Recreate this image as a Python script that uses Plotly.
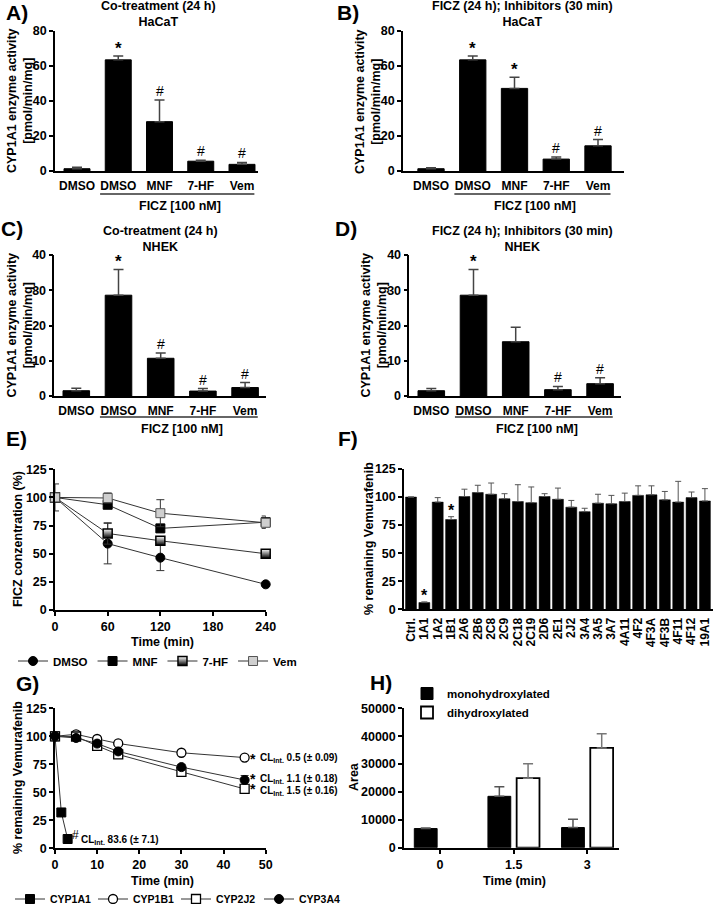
import plotly.graph_objects as go

W, H = 715, 904
FONT = "Liberation Sans"


def fx(p):
    return p / W


def fy(p):
    return 1 - p / H


# ---------------- data ----------------
bar_labels = ["DMSO", "DMSO", "MNF", "7-HF", "Vem"]
ficz_label = "FICZ [100 nM]"

a_vals = [1.3, 63.5, 28.2, 5.6, 3.8]
a_errs = [0.8, 2.2, 12.4, 0.6, 1.1]
a_sig = ["", "*", "#", "#", "#"]

b_vals = [1.3, 63.5, 47.2, 6.8, 14.4]
b_errs = [0.5, 2.2, 6.4, 1.2, 3.6]
b_sig = ["", "*", "*", "#", "#"]

c_vals = [1.5, 28.6, 10.7, 1.4, 2.4]
c_errs = [0.7, 7.3, 1.5, 0.7, 1.4]
c_sig = ["", "*", "#", "#", "#"]

d_vals = [1.5, 28.6, 15.4, 1.8, 3.5]
d_errs = [0.6, 7.3, 4.1, 0.9, 1.7]
d_sig = ["", "*", "", "#", "#"]

e_time = [0, 60, 120, 240]
e_dmso = [100, 59, 46.5, 22.8]
e_dmso_err = [12, 18, 11.5, 1]
e_mnf = [100, 93.5, 72.5, 78]
e_mnf_err = [1.5, 1.5, 3, 5.5]
e_7hf = [100, 68, 61.5, 50]
e_7hf_err = [2, 9.5, 2.5, 1]
e_vem = [100, 99.5, 86, 77.5]
e_vem_err = [2, 4.5, 12, 2]

f_cyps = ["Ctrl.", "1A1", "1A2", "1B1", "2A6", "2B6", "2C8", "2C9", "2C18", "2C19",
          "2D6", "2E1", "2J2", "3A4", "3A5", "3A7", "4A11", "4F2", "4F3A", "4F3B",
          "4F11", "4F12", "19A1"]
f_vals = [100, 6, 95.5, 80, 100.5, 104, 102.5, 98.5, 96, 95, 100.5, 98, 91, 87,
          94.5, 94, 96, 101.5, 102, 97.5, 95.5, 99.5, 96.5]
f_errs = [0, 0.6, 4, 2.5, 6.5, 6.5, 10, 4.5, 15, 14, 2.5, 10, 6, 3,
          8, 7.5, 7.5, 8.5, 8, 7.5, 18.5, 5, 11]
f_sig = ["", "*", "", "*"] + [""] * 19

g_1a1_time = [0, 1.5, 3]
g_1a1 = [100, 32, 8.3]
g_time = [0, 5, 10, 15, 30, 45]
g_1b1 = [100, 101.8, 97.6, 93.6, 85.3, 81]
g_1b1_err = [0.5, 1, 1, 1, 1, 1.5]
g_2j2 = [100, 99.8, 91.5, 83.8, 68.3, 53]
g_2j2_err = [0.5, 1, 1.5, 1.5, 1.5, 1.5]
g_3a4 = [100, 98.5, 93.5, 86.5, 72.5, 61]
g_3a4_err = [0.5, 1, 1, 2, 2.5, 4]
g_cl_1a1 = "CL<sub>Int.</sub> 83.6 (± 7.1)"
g_cl_1b1 = "CL<sub>Int.</sub> 0.5 (± 0.09)"
g_cl_3a4 = "CL<sub>Int.</sub> 1.1 (± 0.18)"
g_cl_2j2 = "CL<sub>Int.</sub> 1.5 (± 0.16)"

h_times = ["0", "1.5", "3"]
h_mono = [6870, 18430, 7230]
h_mono_err = [230, 3400, 3000]
h_di = [None, 24940, 35780]
h_di_err = [0, 5150, 5060]

# ---------------- styling helpers ----------------
num_font = dict(family=FONT, size=12.5, color="black", weight="bold")
cat_font = dict(family=FONT, size=12, color="black", weight="bold")
lab_font = dict(family=FONT, size=12.5, color="black", weight="bold")

base_axis = dict(showline=True, linecolor="black", linewidth=1.5, showgrid=False,
                 zeroline=False, ticks="outside", ticklen=4, tickwidth=1.5,
                 tickcolor="black", tickfont=num_font, fixedrange=True,
                 automargin=False)

fig = go.Figure()
layout_axes = {}
annotations = []
shapes = []


def names(i):
    return ("x" if i == 1 else f"x{i}", "y" if i == 1 else f"y{i}",
            "xaxis" if i == 1 else f"xaxis{i}", "yaxis" if i == 1 else f"yaxis{i}")


def set_axes(i, xdom, ydom, xrange_, yrange_, xopts, yopts):
    xa, ya, xn, yn = names(i)
    xd = dict(base_axis)
    xd.update(domain=[fx(xdom[0]), fx(xdom[1])], range=xrange_, anchor=ya)
    xd.update(xopts)
    yd = dict(base_axis)
    yd.update(domain=[fy(ydom[1]), fy(ydom[0])], range=yrange_, anchor=xa)
    yd.update(yopts)
    layout_axes[xn] = xd
    layout_axes[yn] = yd


def text_ann(x, y, text, font, **kw):
    d = dict(x=x, y=y, xref="paper", yref="paper", text=text, showarrow=False,
             font=font)
    d.update(kw)
    annotations.append(d)


def letter(xc, yc, t):
    text_ann(fx(xc), fy(yc), t, dict(family=FONT, size=21, color="black", weight="bold"),
             xanchor="center", yanchor="middle")


# ---------------- panels A-D ----------------
bar_panels = [
    dict(i=1, vals=a_vals, errs=a_errs, sig=a_sig, xdom=(55, 258), ydom=(31, 171),
         first=77, step=41.25, ymax=80, dtick=20,
         title="Co-treatment (24 h)<br>HaCaT", tx=158, ty=14,
         letter=("A)", 17, 12), yt_x=20, br_y=194, fl_y=206),
    dict(i=2, vals=b_vals, errs=b_errs, sig=b_sig, xdom=(403, 624), ydom=(31, 171),
         first=431, step=41.75, ymax=80, dtick=20,
         title="FICZ (24 h); Inhibitors (30 min)<br>HaCaT", tx=522, ty=14,
         letter=("B)", 348, 12), yt_x=368, br_y=194, fl_y=206),
    dict(i=3, vals=c_vals, errs=c_errs, sig=c_sig, xdom=(54.3, 265.7), ydom=(255, 396),
         first=76.3, step=42.2, ymax=40, dtick=10,
         title="Co-treatment (24 h)<br>NHEK", tx=160, ty=239,
         letter=("C)", 12, 229), yt_x=20, br_y=417, fl_y=429),
    dict(i=4, vals=d_vals, errs=d_errs, sig=d_sig, xdom=(409.3, 620.7), ydom=(255, 396),
         first=431.3, step=42.2, ymax=40, dtick=10,
         title="FICZ (24 h); Inhibitors (30 min)<br>NHEK", tx=522, ty=239,
         letter=("D)", 346, 229), yt_x=374, br_y=417, fl_y=429),
]

for p in bar_panels:
    i = p["i"]
    xa, ya, _, _ = names(i)
    n = len(p["vals"])
    idx = list(range(n))
    fig.add_trace(go.Bar(
        x=idx, y=p["vals"], xaxis=xa, yaxis=ya, width=0.63,
        marker=dict(color="black", line=dict(color="black", width=1)),
        error_y=dict(type="data", array=p["errs"], arrayminus=[0] * n, symmetric=False,
                     color="#444", thickness=1.5, width=5),
        showlegend=False))
    xr = [(p["xdom"][0] - p["first"]) / p["step"], (p["xdom"][1] - p["first"]) / p["step"]]
    set_axes(i, p["xdom"], p["ydom"], xr, [0, p["ymax"]],
             dict(tickvals=idx, ticktext=bar_labels, ticks="", tickfont=cat_font,
                  ticklabelstandoff=3),
             dict(tick0=0, dtick=p["dtick"]))
    for k, s in enumerate(p["sig"]):
        if not s:
            continue
        if s == "*":
            f = dict(family=FONT, size=17, color="black", weight="bold")
            ys = -4
        else:
            f = dict(family=FONT, size=14, color="black")
            ys = -1
        annotations.append(dict(x=idx[k], y=p["vals"][k] + p["errs"][k], xref=xa, yref=ya,
                                text=s, showarrow=False, font=f, yanchor="bottom",
                                yshift=ys))
    # bracket line under FICZ-treated groups
    shapes.append(dict(type="line", xref=xa, yref="paper", x0=idx[1] - 0.44,
                       x1=idx[-1] + 0.3, y0=fy(p["br_y"]), y1=fy(p["br_y"]),
                       line=dict(color="#333", width=1.5)))
    annotations.append(dict(x=(idx[1] + idx[-1]) / 2, y=fy(p["fl_y"]), xref=xa, yref="paper",
                            text=ficz_label, showarrow=False, font=lab_font,
                            yanchor="middle"))
    text_ann(fx(p["tx"]), fy(p["ty"]), p["title"], lab_font, xanchor="center",
             yanchor="middle")
    text_ann(fx(p["yt_x"]), fy((p["ydom"][0] + p["ydom"][1]) / 2),
             "CYP1A1 enzyme activity<br>[pmol/min/mg]", lab_font, textangle=-90,
             xanchor="center", yanchor="middle")
    letter(p["letter"][1], p["letter"][2], p["letter"][0])

# ---------------- panel E ----------------
e_series = [
    ("DMSO", e_dmso, e_dmso_err, dict(symbol="circle", size=9, color="black",
                                      line=dict(color="black", width=1))),
    ("MNF", e_mnf, e_mnf_err, dict(symbol="square", size=9, color="black",
                                   line=dict(color="black", width=1))),
    ("7-HF", e_7hf, e_7hf_err, dict(symbol="square", size=9, color="white",
                                    gradient=dict(type="vertical", color="black"),
                                    line=dict(color="black", width=1.5))),
    ("Vem", e_vem, e_vem_err, dict(symbol="square", size=9, color="#cfcfcf",
                                   line=dict(color="#555", width=1))),
]
for name, ys, es, mk in e_series:
    fig.add_trace(go.Scatter(
        x=e_time, y=ys, xaxis="x5", yaxis="y5", name=name, mode="lines+markers",
        line=dict(color="#333", width=1), marker=mk, cliponaxis=False,
        error_y=dict(type="data", array=es, color="#333", thickness=1, width=4),
        legend="legend"))
set_axes(5, (55, 265.7), (469.3, 610), [0, 240], [0, 125],
         dict(tickvals=e_time + [180]), dict(tick0=0, dtick=25))
text_ann(fx(17.5), fy(539.6), "FICZ conzentration (%)", lab_font, textangle=-90,
         xanchor="center", yanchor="middle")
text_ann(fx(162), fy(642), "Time (min)", lab_font, xanchor="center", yanchor="middle")
letter(16, 438, "E)")

# ---------------- panel F ----------------
f_idx = list(range(len(f_cyps)))
fig.add_trace(go.Bar(
    x=f_idx, y=f_vals, xaxis="x6", yaxis="y6", width=0.82,
    marker=dict(color="black", line=dict(color="black", width=0.5)),
    error_y=dict(type="data", array=f_errs, arrayminus=[0] * len(f_vals), symmetric=False,
                 color="#555", thickness=1, width=3),
    showlegend=False))
set_axes(6, (404, 713), (469, 609.3), [(404 - 411) / 13.36, (713 - 411) / 13.36], [0, 125],
         dict(tickvals=f_idx, ticktext=f_cyps, ticks="", tickangle=-90,
              tickfont=dict(family=FONT, size=12, color="black", weight="bold"),
              ticklabelstandoff=2),
         dict(tick0=0, dtick=25))
for k, s in enumerate(f_sig):
    if s:
        annotations.append(dict(x=f_idx[k], y=f_vals[k] + f_errs[k], xref="x6", yref="y6",
                                text=s, showarrow=False, yanchor="bottom", yshift=-4,
                                font=dict(family=FONT, size=16, color="black",
                                          weight="bold")))
text_ann(fx(369), fy(539), "% remaining Vemurafenib", lab_font, textangle=-90,
         xanchor="center", yanchor="middle")
letter(348, 438, "F)")

# ---------------- panel G ----------------
g_series = [
    ("CYP1A1", g_1a1_time, g_1a1, None, dict(symbol="square", size=9, color="black",
                                              line=dict(color="black", width=1))),
    ("CYP1B1", g_time, g_1b1, g_1b1_err, dict(symbol="circle", size=9, color="white",
                                               line=dict(color="black", width=1.3))),
    ("CYP2J2", g_time, g_2j2, g_2j2_err, dict(symbol="square", size=9, color="white",
                                               line=dict(color="black", width=1.3))),
    ("CYP3A4", g_time, g_3a4, g_3a4_err, dict(symbol="circle", size=9, color="black",
                                               line=dict(color="black", width=1))),
]
for name, xs, ys, es, mk in g_series:
    tr = dict(x=xs, y=ys, xaxis="x7", yaxis="y7", name=name, mode="lines+markers",
              line=dict(color="#333", width=1), marker=mk, cliponaxis=False,
              legend="legend2")
    if es:
        tr["error_y"] = dict(type="data", array=es, color="#333", thickness=1, width=4)
    fig.add_trace(go.Scatter(**tr))
set_axes(7, (55, 265.7), (708.3, 848.3), [0, 50], [0, 125],
         dict(tick0=0, dtick=10), dict(tick0=0, dtick=25))

star_font = dict(family=FONT, size=14, color="black", weight="bold")
cl_font = dict(family=FONT, size=10, color="black", weight="bold")
g_last = [(g_1b1, g_cl_1b1, 0, 0), (g_3a4, g_cl_3a4, 2, 1), (g_2j2, g_cl_2j2, 1, -2)]
for ys, txt, star_dy, cl_dy in g_last:
    annotations.append(dict(x=g_time[-1], y=ys[-1], xref="x7", yref="y7", text="*",
                            showarrow=False, xanchor="center", yanchor="middle",
                            xshift=8, yshift=star_dy - 1, font=star_font))
    annotations.append(dict(x=g_time[-1], y=ys[-1], xref="x7", yref="y7", text=txt,
                            showarrow=False, xanchor="left", yanchor="middle",
                            xshift=13, yshift=cl_dy, font=cl_font))
annotations.append(dict(x=g_1a1_time[-1], y=g_1a1[-1], xref="x7", yref="y7", text="#",
                        showarrow=False, xanchor="center", yanchor="middle", xshift=8,
                        yshift=4, font=dict(family=FONT, size=12, color="black")))
annotations.append(dict(x=g_1a1_time[-1], y=g_1a1[-1], xref="x7", yref="y7", text=g_cl_1a1,
                        showarrow=False, xanchor="left", yanchor="middle", xshift=11,
                        yshift=-1, font=cl_font))
text_ann(fx(18), fy(778), "% remaining Vemurafenib", lab_font, textangle=-90,
         xanchor="center", yanchor="middle")
text_ann(fx(162), fy(881), "Time (min)", lab_font, xanchor="center", yanchor="middle")
letter(27, 683, "G)")

# ---------------- panel H ----------------
h_idx = list(range(len(h_times)))
fig.add_trace(go.Bar(
    x=h_idx, y=h_mono, xaxis="x8", yaxis="y8", name="monohydroxylated",
    width=0.31, offset=-0.35,
    marker=dict(color="black", line=dict(color="black", width=1)),
    error_y=dict(type="data", array=h_mono_err, arrayminus=[0] * 3, symmetric=False,
                 color="#555", thickness=1.5, width=5),
    legend="legend3"))
fig.add_trace(go.Bar(
    x=h_idx, y=h_di, xaxis="x8", yaxis="y8", name="dihydroxylated",
    width=0.31, offset=0.04,
    marker=dict(color="white", line=dict(color="black", width=1.8)),
    error_y=dict(type="data", array=h_di_err, arrayminus=[0] * 3, symmetric=False,
                 color="#777", thickness=1.5, width=5),
    legend="legend3"))
set_axes(8, (404, 619), (708.3, 847.7), [-0.49, 2.43], [0, 50000],
         dict(tickvals=h_idx, ticktext=h_times, ticklen=5),
         dict(tick0=0, dtick=10000, tickformat="d"))
text_ann(fx(354), fy(777), "Area", lab_font, textangle=-90, xanchor="center",
         yanchor="middle")
text_ann(fx(514), fy(881), "Time (min)", lab_font, xanchor="center", yanchor="middle")
letter(381, 682, "H)")

leg_font = dict(family=FONT, size=11.5, color="black", weight="bold")
fig.update_layout(
    width=W, height=H,
    margin=dict(l=0, r=0, t=0, b=0, autoexpand=False),
    paper_bgcolor="white", plot_bgcolor="white",
    barmode="overlay",
    showlegend=True,
    legend=dict(orientation="h", x=fx(13), y=fy(661), xanchor="left", yanchor="middle",
                font=leg_font, bgcolor="rgba(0,0,0,0)", itemwidth=30),
    legend2=dict(orientation="h", x=fx(10), y=fy(899), xanchor="left", yanchor="middle",
                 font=dict(family=FONT, size=10.5, color="black", weight="bold"),
                 bgcolor="rgba(0,0,0,0)", itemwidth=30,
                 entrywidth=38, entrywidthmode="pixels"),
    legend3=dict(orientation="v", x=fx(407), y=fy(679), xanchor="left", yanchor="top",
                 font=leg_font, bgcolor="rgba(0,0,0,0)", tracegroupgap=0),
    annotations=annotations,
    shapes=shapes,
    **layout_axes,
)

fig.write_html("out.html",
               config={"displayModeBar": False},
               post_script="document.body.style.margin='0px';"
                           "document.body.style.padding='0px';")
